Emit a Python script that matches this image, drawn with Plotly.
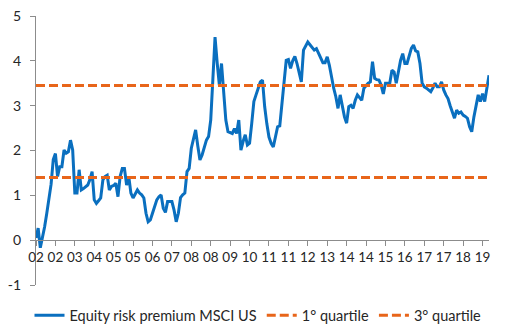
import plotly.graph_objects as go

# Monthly equity risk premium, Jan 2002 .. Jul 2019
erp = [
    0.05, 0.27, -0.17, 0.05, 0.30, 0.60, 0.90, 1.25, 1.80, 1.93, 1.42, 1.64,   # 2002
    1.64, 2.01, 1.94, 1.97, 2.23, 2.01, 1.05, 1.05, 1.57, 1.12, 1.15, 1.18,    # 2003
    1.23, 1.35, 1.53, 0.90, 0.82, 0.88, 0.94, 1.34, 1.42, 1.45, 1.12, 1.20,    # 2004
    1.22, 1.27, 0.97, 1.42, 1.60, 1.60, 1.23, 1.42, 1.05, 0.94, 1.05, 1.12,    # 2005
    1.05, 1.01, 0.94, 0.60, 0.41, 0.45, 0.60, 0.75, 0.90, 0.97, 1.01, 0.71,    # 2006
    0.62, 0.86, 0.86, 0.86, 0.67, 0.41, 0.60, 0.95, 1.01, 1.05, 1.53, 1.60,    # 2007
    2.05, 2.25, 2.46, 2.10, 1.79, 1.90, 2.05, 2.23, 2.31, 2.68, 3.60, 4.53,    # 2008
    3.95, 3.46, 3.94, 3.35, 2.68, 2.42, 2.40, 2.38, 2.49, 2.38, 2.68, 2.01,    # 2009
    2.20, 2.35, 2.12, 2.16, 2.60, 3.09, 3.24, 3.40, 3.53, 3.57, 2.98, 2.60,    # 2010
    2.30, 2.16, 2.08, 2.30, 2.53, 2.55, 3.00, 3.42, 4.01, 4.03, 3.83, 4.00,    # 2011
    4.10, 3.94, 3.70, 3.53, 4.24, 4.35, 4.42, 4.36, 4.31, 4.24, 4.27, 4.16,    # 2012
    4.05, 3.96, 3.96, 4.09, 3.90, 3.61, 3.39, 3.20, 2.94, 3.24, 2.98, 2.75,    # 2013
    2.61, 2.98, 3.01, 2.94, 3.12, 3.24, 3.18, 3.12, 3.39, 3.45, 3.50, 3.53,    # 2014
    3.98, 3.61, 3.58, 3.57, 3.46, 3.26, 3.50, 3.50, 3.50, 3.79, 3.75, 3.50,    # 2015
    3.79, 4.01, 4.16, 3.94, 3.94, 4.09, 4.28, 4.35, 4.22, 4.20, 3.94, 3.50,    # 2016
    3.42, 3.39, 3.35, 3.31, 3.40, 3.50, 3.42, 3.42, 3.53, 3.35, 3.24, 3.16,    # 2017
    3.00, 2.86, 2.72, 2.90, 2.83, 2.86, 2.79, 2.76, 2.72, 2.53, 2.42, 2.75,    # 2018
    3.00, 3.24, 3.09, 3.27, 3.09, 3.42, 3.68,                                  # 2019
]
quartile_1 = 1.40
quartile_3 = 3.45

# Category tick labels (every 9th month starting Jan 2002)
tick_labels = ["02", "02", "03", "04", "05", "05", "06", "07", "08", "08", "09", "10",
               "11", "11", "12", "13", "14", "14", "15", "16", "17", "17", "18", "19"]
tick_step = 9
y_ticks = [-1, 0, 1, 2, 3, 4, 5]
y_tick_labels = ["-1", "0", "1", "2", "3", "4", "5"]

x = list(range(len(erp)))
tick_pos = [i * tick_step for i in range(len(tick_labels))]

BLUE = "#0A6FBF"
ORANGE = "#E8651A"
AXIS = "#8C8C8C"
TEXT = "#262626"
FONT = "Lato"

fig = go.Figure()
fig.add_trace(go.Scatter(x=x, y=erp, mode="lines", name="Equity risk premium MSCI US",
                         line=dict(color=BLUE, width=3)))
fig.add_trace(go.Scatter(x=[x[0], x[-1]], y=[quartile_1, quartile_1], mode="lines",
                         name="1° quartile",
                         line=dict(color=ORANGE, width=3, dash="9px,4px")))
fig.add_trace(go.Scatter(x=[x[0], x[-1]], y=[quartile_3, quartile_3], mode="lines",
                         name="3° quartile",
                         line=dict(color=ORANGE, width=3, dash="9px,4px")))

fig.update_layout(
    width=516, height=334,
    margin=dict(l=36, r=27, t=16, b=49, autoexpand=False),
    paper_bgcolor="white", plot_bgcolor="white",
    font=dict(family=FONT, size=13, color=TEXT),
    showlegend=True,
    legend=dict(orientation="h", x=0.5, xanchor="center", xref="container",
                y=0.056, yanchor="middle", yref="container",
                font=dict(family=FONT, size=14.5, color=TEXT),
                itemwidth=30, tracegroupgap=0),
)
fig.update_xaxes(
    range=[x[0], x[-1]], tickmode="array", tickvals=tick_pos, ticktext=tick_labels,
    showgrid=False, zeroline=False, showline=True, linecolor=AXIS, linewidth=1,
    ticks="outside", ticklen=5, tickcolor=AXIS, tickwidth=1,
    anchor="free", position=1/6,
    tickfont=dict(family=FONT, size=13.5, color=TEXT),
)
fig.update_yaxes(
    range=[-1, 5], tickmode="array", tickvals=y_ticks, ticktext=y_tick_labels,
    showgrid=False, zeroline=False,
    showline=True, linecolor=AXIS, linewidth=1,
    ticks="outside", ticklen=5, tickcolor=AXIS, tickwidth=1,
    ticklabelstandoff=6,
    tickfont=dict(family=FONT, size=14, color=TEXT),
)

fig.write_html("out.html")
